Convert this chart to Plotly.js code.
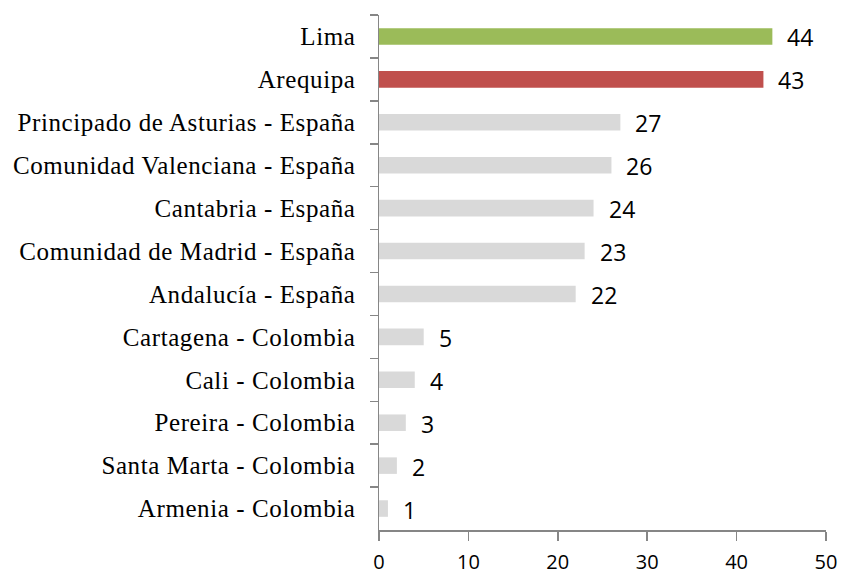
<!DOCTYPE html>
<html>
<head>
<meta charset="utf-8">
<script src="https://cdn.plot.ly/plotly-3.0.1.min.js"></script>
<style>
html,body{margin:0;padding:0;background:#fff;}
#chart{width:841px;height:575px;}
#chart .ytick text{letter-spacing:0.6px;}
</style>
</head>
<body>
<div id="chart"></div>
<script>
const categories = [
  "Lima",
  "Arequipa",
  "Principado de Asturias - España",
  "Comunidad Valenciana - España",
  "Cantabria - España",
  "Comunidad de Madrid - España",
  "Andalucía - España",
  "Cartagena - Colombia",
  "Cali - Colombia",
  "Pereira - Colombia",
  "Santa Marta - Colombia",
  "Armenia - Colombia"
];
const values = [44, 43, 27, 26, 24, 23, 22, 5, 4, 3, 2, 1];
const barColors = ["#9bbb59", "#c0504d", "#d9d9d9", "#d9d9d9", "#d9d9d9", "#d9d9d9", "#d9d9d9", "#d9d9d9", "#d9d9d9", "#d9d9d9", "#d9d9d9", "#d9d9d9"];
const xTicks = [0, 10, 20, 30, 40, 50];

const trace = {
  type: "bar",
  orientation: "h",
  x: values,
  y: categories,
  marker: {color: barColors},
  hoverinfo: "x+y"
};

const annotations = values.map((v, i) => ({
  x: v, y: categories[i], xref: "x", yref: "y",
  text: String(v), showarrow: false,
  xanchor: "left", yanchor: "middle", xshift: 13, yshift: -1,
  font: {family: "Open Sans, sans-serif", size: 23, color: "#000"}
}));

const layout = {
  width: 841, height: 575,
  margin: {l: 379, r: 15, t: 15, b: 45},
  paper_bgcolor: "#fff", plot_bgcolor: "#fff",
  showlegend: false,
  bargap: 0.615,
  xaxis: {
    range: [0, 50], tickvals: xTicks, ticktext: xTicks.map(String),
    showgrid: false, zeroline: false,
    showline: true, linecolor: "#868686", linewidth: 1.5,
    ticks: "outside", ticklen: 9, tickwidth: 1.5, tickcolor: "#868686",
    ticklabelstandoff: 4,
    tickfont: {family: "Open Sans, sans-serif", size: 20, color: "#000"}
  },
  yaxis: {
    type: "category", autorange: "reversed",
    showgrid: false, zeroline: false,
    showline: true, linecolor: "#868686", linewidth: 1.5,
    ticks: "outside", tickson: "boundaries", ticklen: 8, tickwidth: 1.5, tickcolor: "#868686",
    ticklabelstandoff: 17,
    tickfont: {family: "Liberation Serif, Times New Roman, serif", size: 25, color: "#000"}
  },
  annotations: annotations
};

Plotly.newPlot("chart", [trace], layout, {displayModeBar: false, staticPlot: true});
</script>
</body>
</html>
